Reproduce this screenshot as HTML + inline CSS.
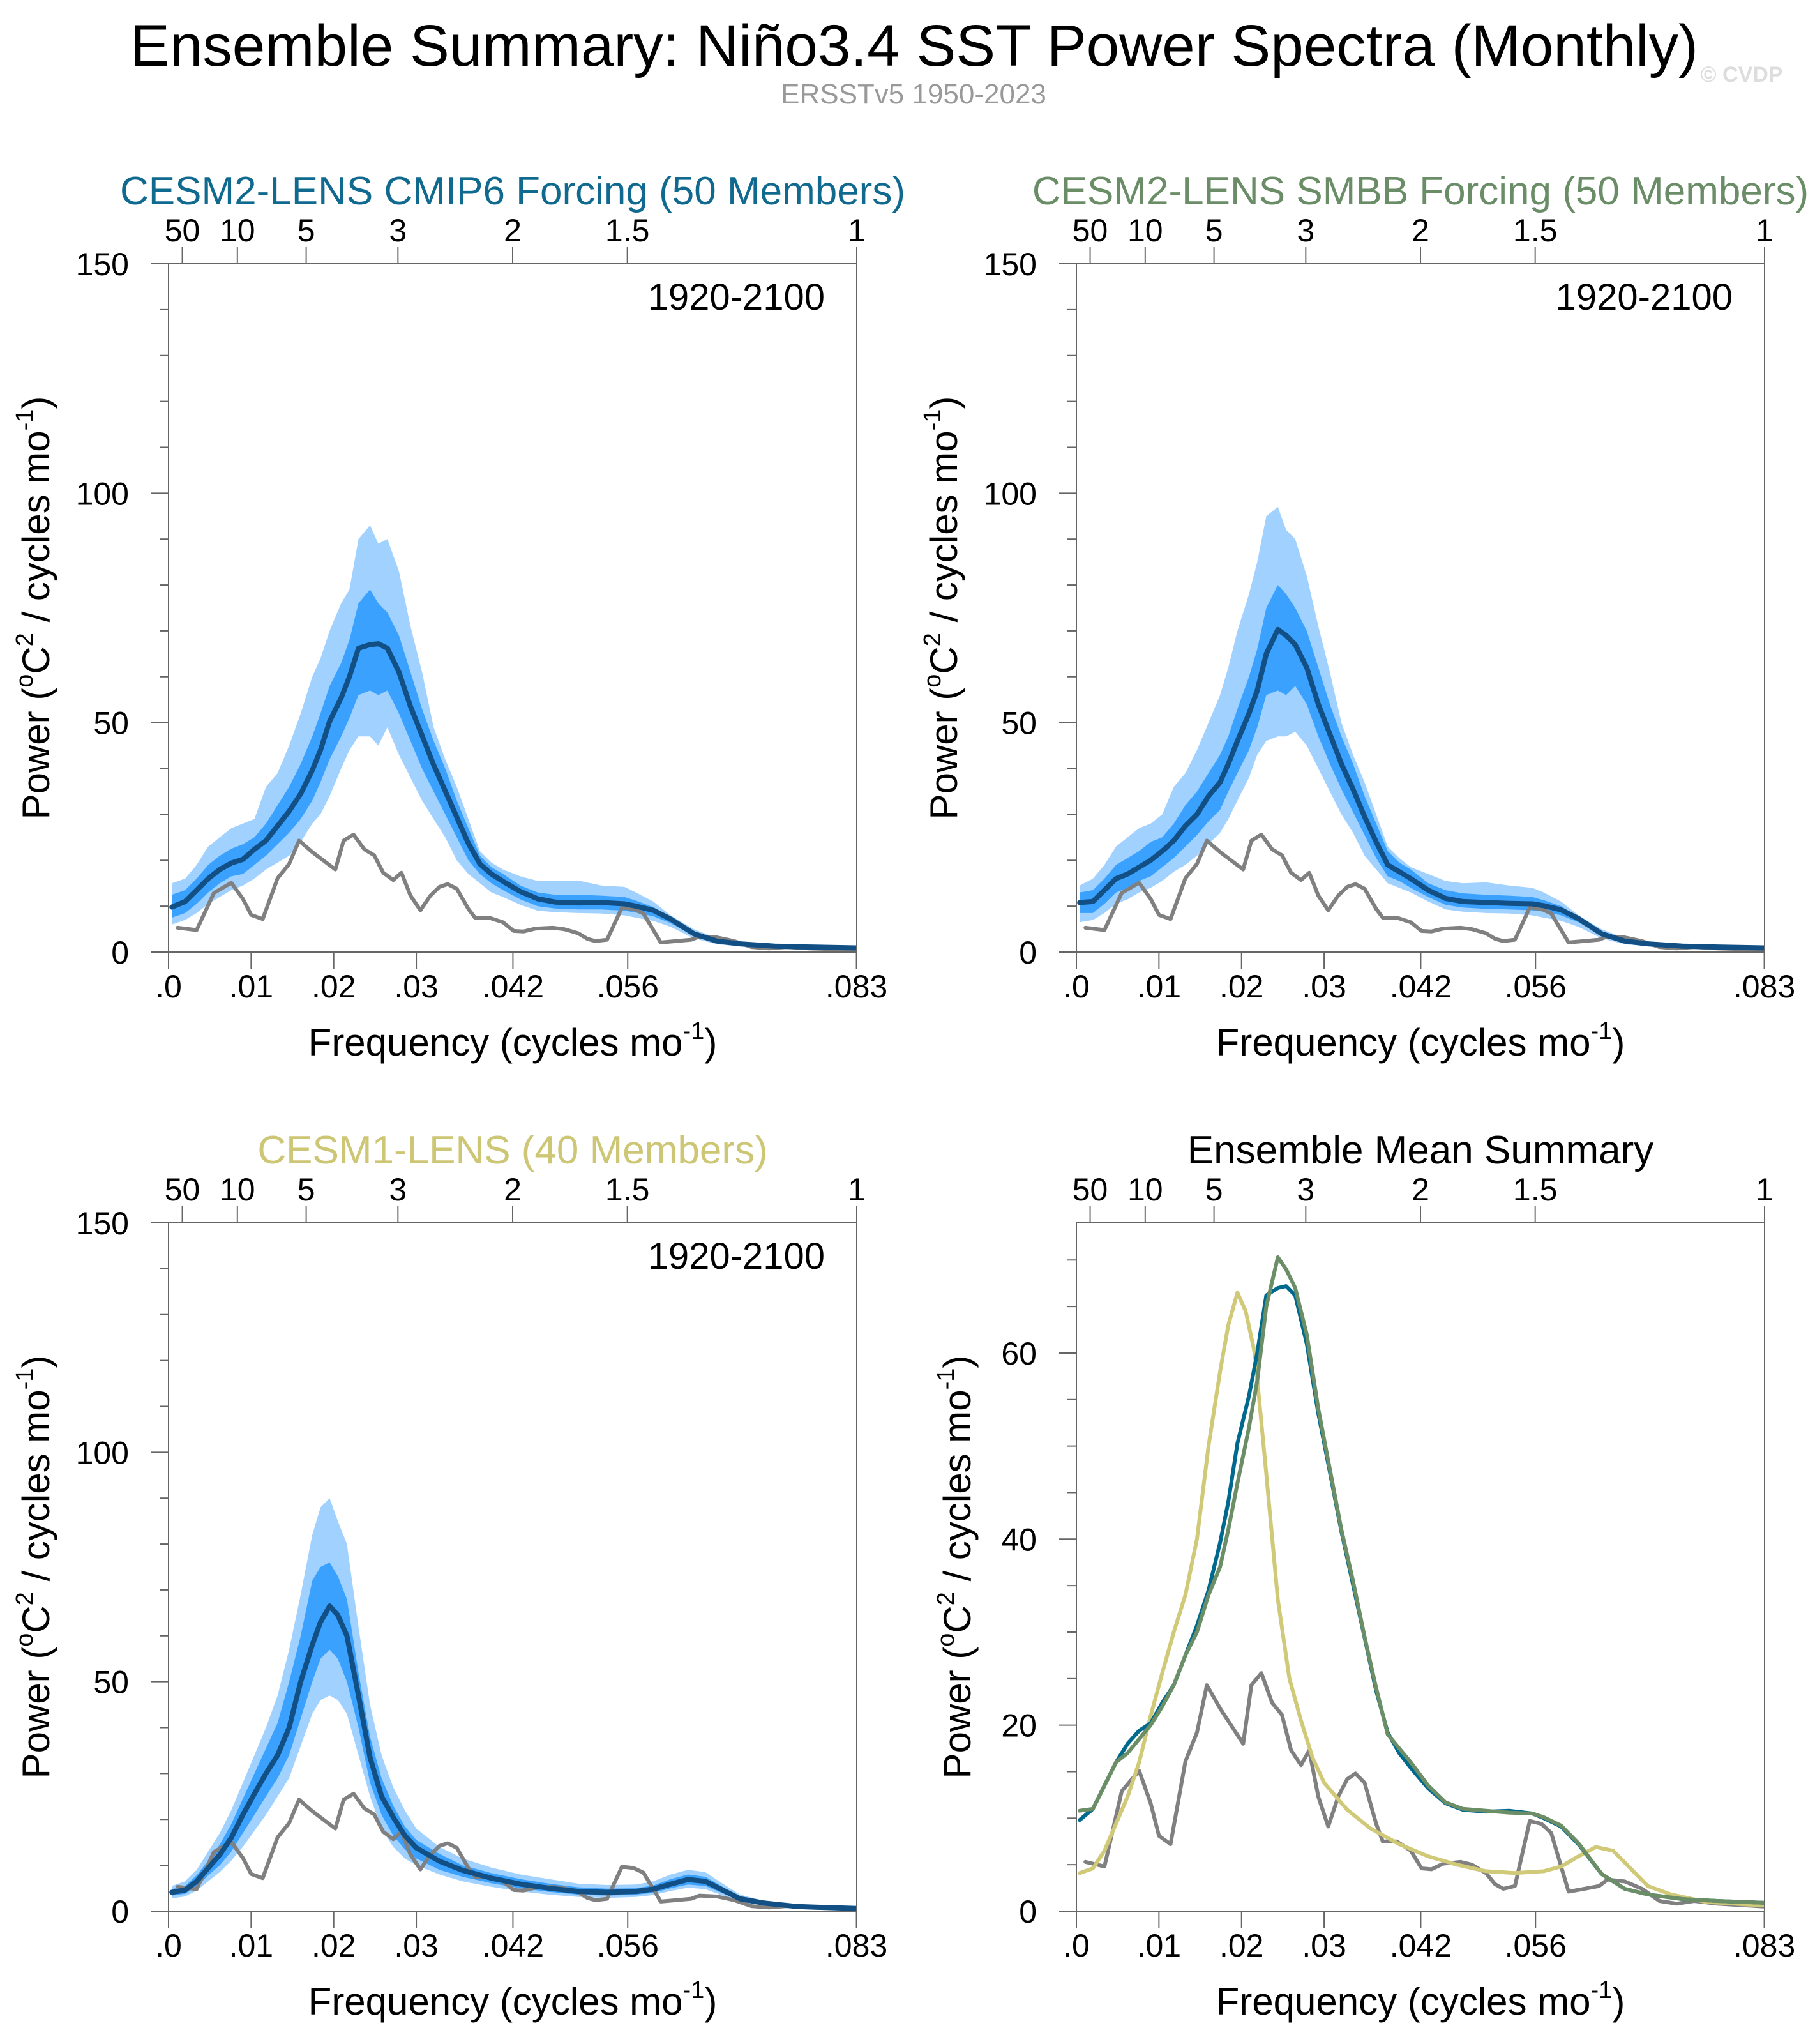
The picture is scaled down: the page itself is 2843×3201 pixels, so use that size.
<!DOCTYPE html>
<html><head><meta charset="utf-8"><title>Ensemble Summary: Niño3.4 SST Power Spectra</title>
<style>html,body{margin:0;padding:0;background:#fff}svg{display:block;font-family:"Liberation Sans",Arial,sans-serif}</style></head>
<body>
<svg id="chart" xmlns="http://www.w3.org/2000/svg" width="2843" height="3201" viewBox="0 0 2843 3201">
<rect x="0" y="0" width="2843" height="3201" fill="#fff"/>
<text x="1432" y="103" font-size="92" text-anchor="middle" textLength="2456" lengthAdjust="spacingAndGlyphs" fill="#000">Ensemble Summary: Niño3.4 SST Power Spectra (Monthly)</text>
<text x="1431" y="162" font-size="44" text-anchor="middle" fill="#999">ERSSTv5 1950-2023</text>
<text x="2728" y="128" font-size="34" font-weight="bold" text-anchor="middle" fill="#ddd">© CVDP</text>
</svg>
<script>
// ---- data ----
const freqModel = [.0004,.002,.0034,.0048,.0062,.0076,.009,.0104,.0118,.0132,.0146,.016,.0174,.0184,.0195,.0209,.0219,.023,.0244,.0254,.0265,.0279,.0293,.0307,.0321,.0335,.0349,.0363,.0377,.0391,.0405,.0426,.0447,.0468,.0496,.0524,.0552,.0566,.0587,.0608,.0636,.0664,.0692,.0734,.0776,.0833];
const cmip6Mean = [9.8,11,13.5,16,18,19.4,20.2,22.4,24.3,27.5,30.7,34.5,39.6,44,50.3,55.4,60,66.2,67,67.2,66.2,61,53.5,47.2,40.8,35.1,29.4,23.7,19.2,17,15.4,13.2,11.6,10.9,10.7,10.8,10.5,10,9.1,7.2,4,2.4,1.8,1.3,1.1,0.9];
const cmip6P90 = [15,16,19,23,25,27,28,29,36,39,45,52,60,64,70,76,79,90,93,89,90,83,71,61,49,42,36,29,22,19.5,18,16.5,15.5,15.5,15.6,14.5,14.2,13,11,8,5,3,2.2,1.6,1.3,1];
const cmip6P75 = [12.5,13.5,16,19,21,22.5,23.5,25,28,32,36,41,47,52,58,63,68,76,79,76,74,69,61,53,46,40,33,27,21,18.5,17,14.5,13,12.5,12.5,12.3,12,11.2,9.8,7.5,4.5,2.7,2,1.5,1.2,0.95];
const cmip6P25 = [7.5,8.5,10.5,13,15,16.5,17,19,21,23.5,26,29,33,37,42,47,51,56,57,56,57,52,46,40,35,30,25,20,17,15,13.5,11.5,10,9.5,9.3,9.3,9,8.6,7.8,6.3,3.5,2,1.5,1.1,0.95,0.8];
const cmip6P10 = [6,7,8.5,10.5,12,13.5,14.5,16,18,19.5,21,24,28,30,34,40,44,47,47,45,49,43,38,33,29,25,20,17,15,13,12,10.3,9,8.7,8.5,8.4,8,7.5,6.8,5.5,3,1.7,1.3,1,0.85,0.7];

const smbbMean = [10.8,11,13.5,16,17,18.5,20,22,24.3,27.5,30,34,37,41,46,52,57,65,70.3,69,67,62,54,47.5,41,35.5,29.5,24,19,17.5,16,13.5,11.7,11,10.8,10.6,10.5,10.1,9.2,7.3,4,2.4,1.8,1.3,1.1,0.9];
const smbbP90 = [14.5,16,19,23,25,27,28,30,36,39,44,50,56,62,70,78,85,95,97,92,90,82,71,61,50,43,37,30,23,20.5,18.5,17,15.5,15,15.2,14.5,14,13,11,8,5,3,2.2,1.6,1.3,1];
const smbbP75 = [13,13.5,16,19,20.5,22,24,25,28,32,35,39,43,47,53,60,66,75,80,78,75,70,62,54,47,41,34,28,22,19.5,18,15,13.5,12.8,12.5,12.3,12,11.3,10,7.6,4.5,2.7,2,1.5,1.2,0.95];
const smbbP25 = [8.5,8.5,10.5,13,14,15.5,16.5,18.5,20.5,23,25.5,28.5,31,35,39,44,49,56,57,56,58,54,47,41,35.5,30.5,25.5,20.5,16.5,15.5,14,12,10.3,9.7,9.4,9.3,9.1,8.8,8,6.5,3.5,2,1.5,1.1,0.95,0.8];
const smbbP10 = [6.5,7,8.5,10.5,11.5,13,14,15.5,17.5,19,21,23.5,26,29,33,38,43,46,47,47,48,45,40,35,30,26,21,18,15,14,13,11,9.3,8.8,8.5,8.4,8,7.5,6.8,5.5,3,1.7,1.3,1,0.85,0.7];

const freqCesm1 = [.0004,.002,.0034,.0048,.0062,.0076,.009,.0104,.0118,.0132,.0146,.016,.0174,.0184,.0195,.0205,.0216,.023,.0244,.0258,.0272,.0286,.0300,.0328,.0356,.0391,.0426,.0461,.0496,.0531,.0566,.0587,.0608,.0629,.065,.0671,.0692,.072,.0762,.0833];
const cesm1Mean = [4.1,4.6,6.5,9.4,12.3,16,21,25.6,30,34,40,50,58,63,66.5,64.5,60,47,33.5,25,20.5,16.5,13.8,10.9,8.9,7.2,5.9,5,4.3,4.1,4.3,4.8,5.9,6.9,6.5,4.6,2.7,1.8,1,0.6];
const cesm1P90 = [5.5,6.5,9,13,17,22,28,34,40,47,57,69,82,88,90,85,80,62,45,34,27,22,18,14,11.5,9.5,8,7,6,5.7,5.8,6.5,8,9,8.5,6,3.6,2.3,1.3,0.8];
const cesm1P75 = [4.8,5.5,7.8,11,14.5,19,24.5,30,35.5,41,50,60,72,75,76,73,68,52,38,29,23,18.5,15.5,12.5,10,8.3,7,6,5.2,4.9,5,5.6,7,8,7.5,5.3,3.1,2,1.1,0.7];
const cesm1P25 = [3.4,3.8,5.3,7.8,10,13,17,21,25,29,34,42,50,55,57,55,50,40,28,21,16.5,13.5,11.5,9,7.5,6.1,5,4.2,3.6,3.4,3.6,4,5,5.8,5.5,3.9,2.3,1.5,0.85,0.5];
const cesm1P10 = [2.8,3.2,4.5,6.5,8.5,11,14,17.5,21,25,29,36,43,46,47,46,43,34,25,18,14,11.5,10,8,6.5,5.3,4.3,3.6,3.1,2.9,3.1,3.5,4.4,5.1,4.8,3.4,2,1.3,0.75,0.45];

const freqObs = [.0011,.0034,.0055,.0076,.009,.01,.0114,.0132,.0146,.0158,.0174,.0188,.0202,.0212,.0224,.0237,.0249,.026,.0272,.0282,.0293,.0305,.0317,.0328,.0338,.0349,.0363,.0371,.0388,.0405,.0418,.043,.0444,.0465,.0479,.0496,.0507,.0517,.0531,.0549,.0563,.0575,.0596,.0615,.0633,.0643,.0664,.0685,.0706,.0727,.0748,.0776,.0833];
const obsPower = [5.3,4.8,12.9,15.1,11.6,8.1,7.2,16.1,19.2,24.3,21.8,19.9,18,24.3,25.6,22.4,21.1,17.3,15.7,17.3,12.3,9.1,12.3,14.2,14.8,13.8,9.4,7.5,7.5,6.5,4.6,4.5,5.1,5.3,5,4.1,2.9,2.4,2.7,9.7,9.4,8.4,2.1,2.4,2.7,3.4,3.2,2.4,1.1,0.8,1.1,0.8,0.5];

const freqTicks = [0,.01,.02,.03,.0417,.0556,.0833];
const freqTickLabels = [".0",".01",".02",".03",".042",".056",".083"];
const periodYears = [50,10,5,3,2,1.5,1];
const periodLabels = ["50","10","5","3","2","1.5","1"];
const yTicksBig = [0,50,100,150];
const yTicksSmall = [0,20,40,60];

// ---- drawing ----
const NS = "http://www.w3.org/2000/svg";
const svg = document.getElementById("chart");
const FMAX = 1/12;
function mk(tag, attrs, parent){const e=document.createElementNS(NS,tag);for(const k in attrs)e.setAttribute(k,attrs[k]);(parent||svg).appendChild(e);return e;}

function panel(P){
  const g = mk("g",{});
  
  
  const X = f => P.L + (f/FMAX)*(P.R-P.L);
  const Y = v => P.B - (v/P.ymax)*(P.B-P.T);
  const cx = (P.L+P.R)/2;
  const t = mk("text",{x:cx,y:P.T-93,"font-size":62,"text-anchor":"middle",fill:P.titleColor},g);
  t.textContent = P.title;
  
  
  const cid = "clip"+P.id;
  const cp = mk("clipPath",{id:cid},g); mk("rect",{x:P.L,y:P.T,width:P.R-P.L,height:P.B-P.T},cp);
  const dg = mk("g",{"clip-path":"url(#"+cid+")"},g);
  function band(fr, up, lo, color, nm){
    let pts=[]; for(let i=0;i<fr.length;i++) pts.push(X(fr[i]).toFixed(1)+","+Y(up[i]).toFixed(1));
    for(let i=fr.length-1;i>=0;i--) pts.push(X(fr[i]).toFixed(1)+","+Y(lo[i]).toFixed(1));
    const p = mk("polygon",{points:pts.join(" "),fill:color},dg);
    
    
  }
  function line(fr, vals, color, w, nm){
    const d = fr.map((f,i)=>(i?"L":"M")+X(f).toFixed(1)+","+Y(vals[i]).toFixed(1)).join("");
    const p = mk("path",{d:d,fill:"none",stroke:color,"stroke-width":w,"stroke-linejoin":"round","stroke-linecap":"round"},dg);
    
    
  }
  if(P.bands){
    const b=P.bands;
    band(b.f,b.p90,b.p10,"#a0d1ff","band-10-90");
    band(b.f,b.p75,b.p25,"#3aa1ff","band-25-75");
  }
  line(freqObs, obsPower, "#808080", 6, "obs-ersst-line");
  P.lines.forEach(l=>line(l.f,l.v,l.c,l.w,l.name));
  const fr = mk("rect",{x:P.L,y:P.T,width:P.R-P.L,height:P.B-P.T,fill:"none",stroke:"#666","stroke-width":2},g);
  
  
  freqTicks.forEach((f,i)=>{
    mk("line",{x1:X(f),x2:X(f),y1:P.B,y2:P.B+27,stroke:"#666","stroke-width":2},g);
    const tl = mk("text",{x:X(f),y:P.B+71,"font-size":50,"text-anchor":"middle"},g);
    tl.textContent = freqTickLabels[i];
    
    
  });
  periodYears.forEach((p,i)=>{
    const f = 1/(p*12);
    mk("line",{x1:X(f),x2:X(f),y1:P.T,y2:P.T-26,stroke:"#666","stroke-width":2},g);
    const tl = mk("text",{x:X(f),y:P.T-35,"font-size":50,"text-anchor":"middle"},g);
    tl.textContent = periodLabels[i];
    
    
  });
  for(let v=0; v<=P.ymax+1e-9; v+=P.minor){
    const major = P.yticks.indexOf(v)>=0;
    mk("line",{x1:P.L-(major?27:14),x2:P.L,y1:Y(v),y2:Y(v),stroke:"#666","stroke-width":2},g);
  }
  P.yticks.forEach(v=>{
    const tl = mk("text",{x:P.L-62,y:Y(v)+18,"font-size":50,"text-anchor":"end"},g);
    tl.textContent = String(v);
    
    
  });
  const xt = mk("text",{x:cx,y:P.B+162,"font-size":60,"text-anchor":"middle"},g);
  xt.innerHTML = 'Frequency (cycles mo<tspan dy="-26" font-size="38">-1</tspan><tspan dy="26">)</tspan>';
  
  
  const yx = P.L - P.ylabOff, yy = (P.T+P.B)/2;
  const yt = mk("text",{x:yx,y:yy,"font-size":60,"text-anchor":"middle",transform:"rotate(-90 "+yx+" "+yy+")"},g);
  yt.innerHTML = 'Power (<tspan dy="-26" font-size="38">o</tspan><tspan dy="26">C</tspan><tspan dy="-26" font-size="38">2</tspan><tspan dy="26"> / cycles mo</tspan><tspan dy="-26" font-size="38">-1</tspan><tspan dy="26">)</tspan>';
  
  
  if(P.period){
    const pl = mk("text",{x:P.R-50,y:P.T+72,"font-size":58,"text-anchor":"end"},g);
    pl.textContent = P.period;
    
    
  }
}

panel({id:1,name:"panel-cesm2-cmip6",L:264,R:1342,T:413,B:1491,ymax:150,minor:10,yticks:yTicksBig,ylabOff:187,
  title:"CESM2-LENS CMIP6 Forcing (50 Members)",titleColor:"#10698f",period:"1920-2100",
  bands:{f:freqModel,p90:cmip6P90,p75:cmip6P75,p25:cmip6P25,p10:cmip6P10},
  lines:[{f:freqModel,v:cmip6Mean,c:"#114f84",w:8,name:"ensemble-mean-line"}]});
panel({id:2,name:"panel-cesm2-smbb",L:1686,R:2764,T:413,B:1491,ymax:150,minor:10,yticks:yTicksBig,ylabOff:187,
  title:"CESM2-LENS SMBB Forcing (50 Members)",titleColor:"#6a8d67",period:"1920-2100",
  bands:{f:freqModel,p90:smbbP90,p75:smbbP75,p25:smbbP25,p10:smbbP10},
  lines:[{f:freqModel,v:smbbMean,c:"#114f84",w:8,name:"ensemble-mean-line"}]});
panel({id:3,name:"panel-cesm1",L:264,R:1342,T:1915,B:2993,ymax:150,minor:10,yticks:yTicksBig,ylabOff:187,
  title:"CESM1-LENS (40 Members)",titleColor:"#cdc675",period:"1920-2100",
  bands:{f:freqCesm1,p90:cesm1P90,p75:cesm1P75,p25:cesm1P25,p10:cesm1P10},
  lines:[{f:freqCesm1,v:cesm1Mean,c:"#114f84",w:8,name:"ensemble-mean-line"}]});
panel({id:4,name:"panel-ensemble-mean-summary",L:1686,R:2764,T:1915,B:2993,ymax:74,minor:5,yticks:yTicksSmall,ylabOff:166,
  title:"Ensemble Mean Summary",titleColor:"#000",period:null,bands:null,
  lines:[{f:freqCesm1,v:cesm1Mean,c:"#d0c978",w:6,name:"cesm1-mean-line"},
         {f:freqModel,v:cmip6Mean,c:"#006a8e",w:6,name:"cesm2-cmip6-mean-line"},
         {f:freqModel,v:smbbMean,c:"#6b8e66",w:6,name:"cesm2-smbb-mean-line"}]});
</script>
</body></html>
